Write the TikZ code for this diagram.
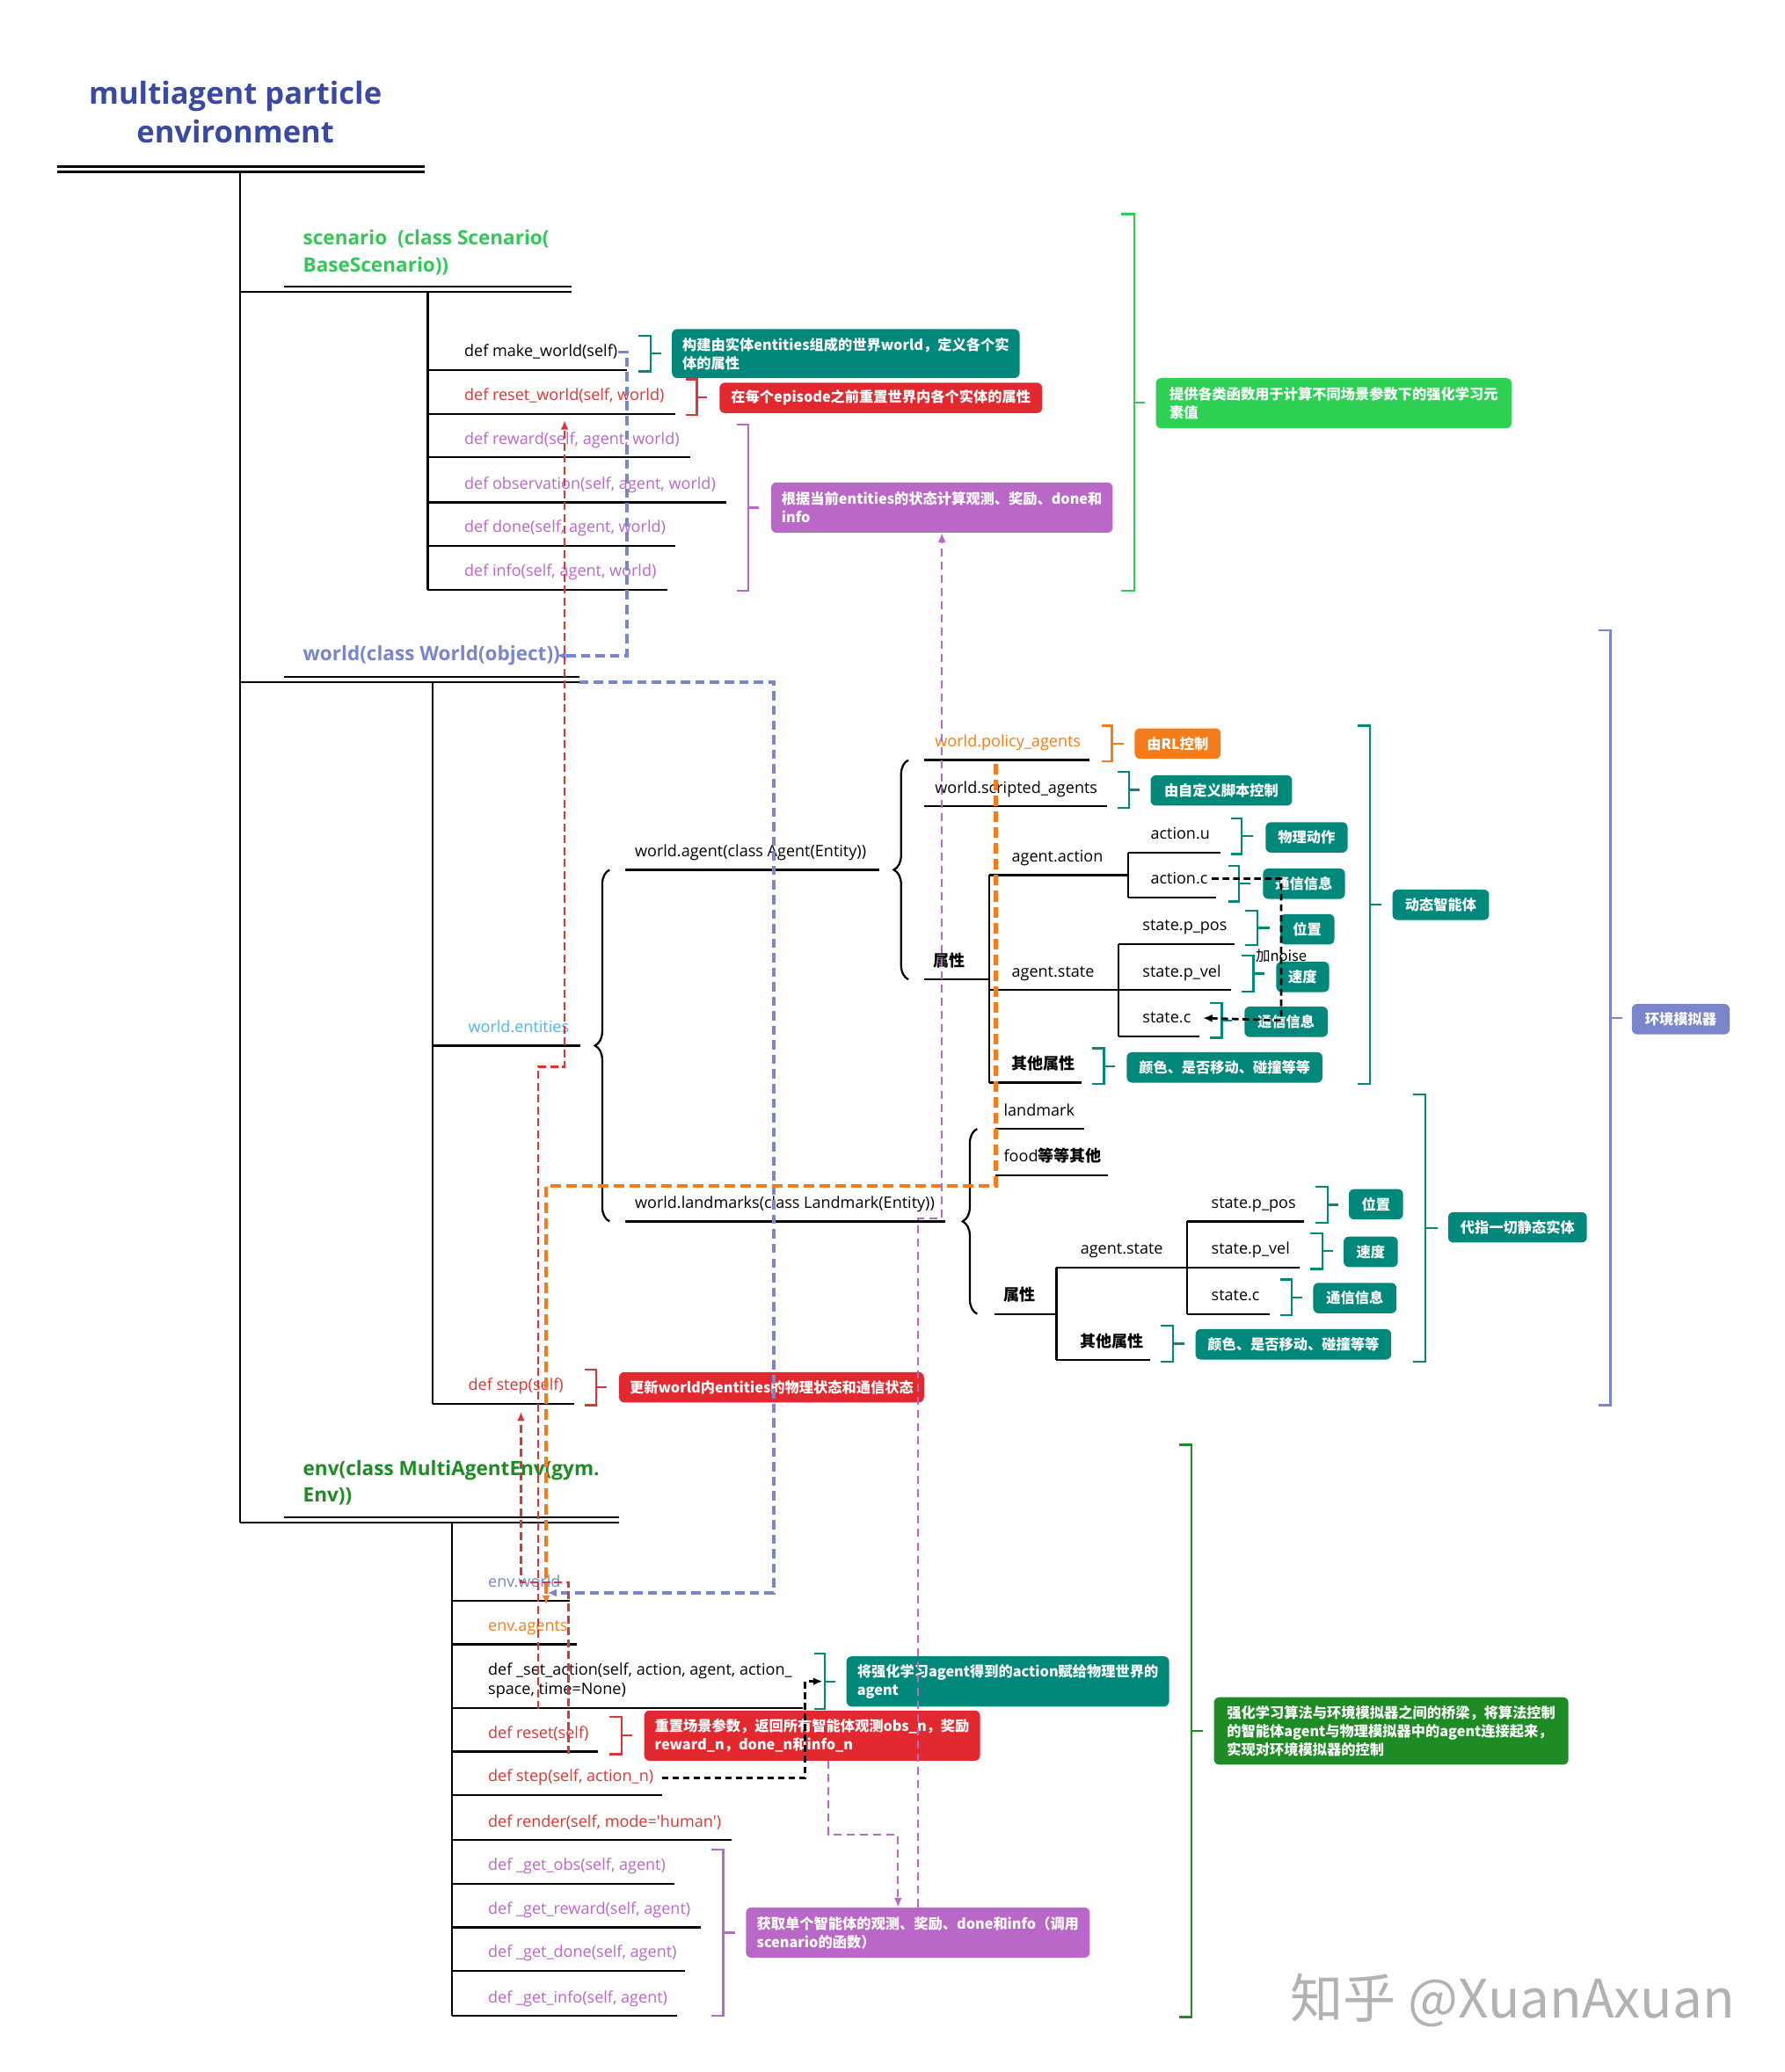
\documentclass[tikz,border=0pt]{standalone}
\usepackage{fontspec}
\setmainfont{Open Sans}
\newfontfamily\cjk{Noto Sans CJK SC}
\usetikzlibrary{decorations.pathreplacing,arrows.meta}

\definecolor{mpeblue}{HTML}{3A4AA3}
\definecolor{scngreen}{HTML}{36C75A}
\definecolor{boxgreen}{HTML}{2FD155}
\definecolor{wldblue}{HTML}{7986CB}
\definecolor{tealbox}{HTML}{00897B}
\definecolor{redfn}{HTML}{DD3535}
\definecolor{redbox}{HTML}{E1292F}
\definecolor{purp}{HTML}{BA68C8}
\definecolor{orng}{HTML}{F57C1A}
\definecolor{envgreen}{HTML}{1E8B24}
\definecolor{entblue}{HTML}{4DB6E8}

\tikzset{
  tree/.style={line width=1.5pt},
  fn/.style={font=\fontsize{12}{15}\selectfont, inner sep=0pt, anchor=base west},
  cjkb/.style={font=\cjk\bfseries\fontsize{12}{15}\selectfont},
  head/.style={font=\bfseries\fontsize{15}{20}\selectfont, inner sep=0pt, anchor=west, align=left},
  box/.style={rounded corners=4pt, inner xsep=8pt, inner ysep=2pt, text=white, anchor=west,
    align=left, minimum height=23pt, font=\cjk\bfseries\fontsize{10.8}{14}\selectfont},
  brk/.style={line width=1.5pt},
  mbrace/.style={decorate, decoration={brace, amplitude=11pt}, line width=1.5pt},
  bluedash/.style={wldblue, line width=2.5pt, dash pattern=on 7pt off 4pt},
  orangedash/.style={orng, line width=3pt, dash pattern=on 8pt off 4pt},
  reddash/.style={redfn, line width=1.5pt, dash pattern=on 6pt off 3pt},
  purpdash/.style={purp, line width=1.3pt, dash pattern=on 6pt off 4pt},
  blackdash/.style={black, line width=1.8pt, dash pattern=on 5pt off 3pt}
}

\begin{document}
\begin{tikzpicture}[x=1pt, y=-1pt, >={Latex[length=7pt,width=6pt]}]
  \def\brk#1#2#3#4#5#6{\draw[brk,#1] (#2,#4) -| (#3,#5) -- (#2,#5) (#3,{(#4+#5)/2}) -- (#6,{(#4+#5)/2});}

  \fill[white] (0,0) rectangle (1350,1567.5);
  \useasboundingbox (0,0) rectangle (1350,1567.5);

  % root
  \node[font=\bfseries\fontsize{23}{29.5}\selectfont, text=mpeblue, align=center] (title) at (178,85) {multiagent particle\\environment};
  \draw[tree] (43,126) -- (321,126) (43,130) -- (321,130);
  \draw[tree] (181.5,130) -- (181.5,1152);

  % scenario
  \node[head, text=scngreen] (scn) at (229,191) {scenario\ \ (class Scenario(\\BaseScenario))};
  \draw[tree] (215,217) -- (432,217) (181.5,221) -- (432,221);
  \draw[tree] (323.5,221) -- (323.5,446);
  \draw[tree] (323.5,280) -- (474,280) (323.5,313) -- (511,313) (323.5,346) -- (522,346)
    (323.5,380) -- (549,380) (323.5,413) -- (511,413) (323.5,446) -- (505,446);
  \node[fn] (mkw) at (351,270) {def make\_world(self)};
  \node[fn, text=redfn] (rsw) at (351,303) {def reset\_world(self, world)};
  \node[fn, text=purp] (rew) at (351,336) {def reward(self, agent, world)};
  \node[fn, text=purp] (obs) at (351,370) {def observation(self, agent, world)};
  \node[fn, text=purp] (don) at (351,403) {def done(self, agent, world)};
  \node[fn, text=purp] (inf) at (351,436) {def info(self, agent, world)};

  \brk{tealbox}{483}{492}{254}{281}{500}
  \brk{redfn}{519}{527}{287}{314}{535}
  \brk{purp}{557}{566}{321}{447}{574}
  \brk{scngreen}{848}{858}{162}{447}{866}
  \node[box, fill=tealbox, minimum width=261pt, minimum height=37pt] (bmkw) at (508,267.5) {构建由实体entities组成的世界world，定义各个实\\体的属性};
  \node[box, fill=redbox, minimum width=244pt] (brsw) at (544,301) {在每个episode之前重置世界内各个实体的属性};
  \node[box, fill=purp, minimum width=257pt, minimum height=38pt] (bscn) at (583,384) {根据当前entities的状态计算观测、奖励、done和\\info};
  \node[box, fill=boxgreen, minimum width=269pt, minimum height=38pt] (bsce) at (874,305) {提供各类函数用于计算不同场景参数下的强化学习元\\素值};

  % world
  \node[head, text=wldblue] (wld) at (229,496) {world(class World(object))};
  \draw[tree] (215,512) -- (438,512) (181.5,516) -- (438,516);
  \draw[tree] (327,516) -- (327,1062);
  \draw[tree] (327,791) -- (439,791);
  \node[fn, text=entblue] (ent) at (354,781) {world.entities};
  \draw[mbrace] (461,924) -- (461,658);

  % agents
  \node[fn] (agt) at (480,648) {world.agent(class Agent(Entity))};
  \draw[tree] (473,658) -- (665,658);
  \draw[mbrace] (687,741) -- (687,575);
  \node[fn, text=orng] (pol) at (707,565) {world.policy\_agents};
  \node[fn] (scr) at (707,600) {world.scripted\_agents};
  \node[fn, cjkb] (aat) at (706,731) {属性};
  \draw[tree] (699,575) -- (824,575) (699,610) -- (837,610) (699,741) -- (748,741);
  \draw[tree] (748,662) -- (748,819) (748,662) -- (853,662) (853,645) -- (853,679)
    (853,645) -- (923,645) (853,679) -- (920,679);
  \draw[tree] (748,749) -- (931,749) (846,714) -- (846,784) (846,714) -- (934,714)
    (846,784) -- (907,784) (748,819) -- (818,819);
  \node[fn] (aac) at (765,652) {agent.action};
  \node[fn] (acu) at (870,635) {action.u};
  \node[fn] (acc) at (870,669) {action.c};
  \node[fn] (ast) at (765,739) {agent.state};
  \node[fn] (spp) at (864,704) {state.p\_pos};
  \node[fn] (spv) at (864,739) {state.p\_vel};
  \node[fn] (stc) at (864,774) {state.c};
  \node[fn, cjkb] (aot) at (765,809) {其他属性};

  \brk{orng}{833}{841}{549}{576}{850}
  \brk{tealbox}{845}{854}{584}{611}{862}
  \brk{tealbox}{931}{939}{619}{646}{948}
  \brk{tealbox}{929}{937}{655}{682}{946}
  \brk{tealbox}{942}{951}{689}{715}{960}
  \brk{tealbox}{939}{948}{723}{750}{956}
  \brk{tealbox}{915}{924}{759}{785}{932}
  \brk{tealbox}{826}{835}{793}{820}{843}
  \brk{tealbox}{1027}{1036}{549}{820}{1045}
  \node[box, fill=orng, minimum width=65pt] (brl) at (858,562.5) {由RL控制};
  \node[box, fill=tealbox, minimum width=107pt] (bscr) at (870,598) {由自定义脚本控制};
  \node[box, fill=tealbox, minimum width=62pt] (bphy) at (957,633.5) {物理动作};
  \node[box, fill=tealbox, minimum width=62pt] (bcom1) at (955,668.5) {通信信息};
  \node[box, fill=tealbox, minimum width=41pt] (bpos1) at (968,703) {位置};
  \node[box, fill=tealbox, minimum width=40pt] (bvel1) at (965,739) {速度};
  \node[box, fill=tealbox, minimum width=63pt] (bcom2) at (941,773) {通信信息};
  \node[box, fill=tealbox, minimum width=148pt] (both1) at (852,807.5) {颜色、是否移动、碰撞等等};
  \node[box, fill=tealbox, minimum width=73pt] (bdyn) at (1053,684.5) {动态智能体};
  \node[font=\cjk\fontsize{11}{13}\selectfont, inner sep=0pt] (noise) at (969,723) {加noise};

  % landmarks
  \node[fn] (lmk) at (480,914) {world.landmarks(class Landmark(Entity))};
  \draw[tree] (473,924) -- (715,924);
  \draw[mbrace] (739,994) -- (739,854);
  \node[fn] (lmn) at (759,844) {landmark};
  \node[fn] (fod) at (759,879) {food{\cjk\bfseries 等等其他}};
  \node[fn, cjkb] (lat) at (759,984) {属性};
  \draw[tree] (753,854) -- (820,854) (753,889) -- (838,889) (752,994) -- (799,994);
  \draw[tree] (799,959) -- (799,1029) (799,959) -- (898,959) (898,924) -- (898,994)
    (898,924) -- (986,924) (898,959) -- (983,959) (898,994) -- (960,994) (799,1029) -- (870,1029);
  \node[fn] (lst) at (817,949) {agent.state};
  \node[fn] (lpp) at (916,914) {state.p\_pos};
  \node[fn] (lpv) at (916,949) {state.p\_vel};
  \node[fn] (lsc) at (916,984) {state.c};
  \node[fn, cjkb] (lot) at (817,1019) {其他属性};

  \brk{tealbox}{995}{1004}{898}{925}{1012}
  \brk{tealbox}{991}{1000}{933}{960}{1008}
  \brk{tealbox}{968}{977}{968}{995}{985}
  \brk{tealbox}{878}{887}{1003}{1030}{896}
  \brk{tealbox}{1069}{1078}{828}{1030}{1087}
  \node[box, fill=tealbox, minimum width=41pt] (bpos2) at (1020,911) {位置};
  \node[box, fill=tealbox, minimum width=41pt] (bvel2) at (1016,947) {速度};
  \node[box, fill=tealbox, minimum width=63pt] (bcom3) at (993,982) {通信信息};
  \node[box, fill=tealbox, minimum width=148pt] (both2) at (904,1017) {颜色、是否移动、碰撞等等};
  \node[box, fill=tealbox, minimum width=105pt] (bsta) at (1095,928.5) {代指一切静态实体};

  % world step
  \node[fn, text=redfn] (wst) at (354,1052) {def step(self)};
  \draw[tree] (327,1062) -- (434,1062);
  \brk{redfn}{442}{451}{1036}{1063}{459}
  \node[box, fill=redbox, minimum width=228pt] (bstp) at (468,1049.5) {更新world内entities的物理状态和通信状态};
  \brk{wldblue}{1209}{1218}{477}{1063}{1227}
  \node[box, fill=wldblue, minimum width=74pt] (bsim) at (1234,771) {环境模拟器};

  % env
  \node[head, text=envgreen] (env) at (229,1122) {env(class MultiAgentEnv(gym.\\Env))};
  \draw[tree] (215,1148) -- (468,1148) (181.5,1152) -- (468,1152);
  \draw[tree] (342,1152) -- (342,1525);
  \draw[tree] (342,1211) -- (431,1211) (342,1244) -- (436,1244) (342,1292) -- (607,1292)
    (342,1325) -- (452,1325) (342,1358) -- (501,1358) (342,1392) -- (553,1392)
    (342,1425) -- (510,1425) (342,1458) -- (530,1458) (342,1491) -- (518,1491) (342,1525) -- (512,1525);
  \node[fn, text=wldblue] (enw) at (369,1201) {env.world};
  \node[fn, text=orng] (ena) at (369,1234) {env.agents};
  \node[fn, anchor=west, align=left] (sac) at (369,1271.5) {def \_set\_action(self, action, agent, action\_\\space, time=None)};
  \node[fn, text=redfn] (rst) at (369,1315) {def reset(self)};
  \node[fn, text=redfn] (stp) at (369,1348) {def step(self, action\_n)};
  \node[fn, text=redfn] (rnd) at (369,1382) {def render(self, mode=\textquotesingle human\textquotesingle)};
  \node[fn, text=purp] (gob) at (369,1415) {def \_get\_obs(self, agent)};
  \node[fn, text=purp] (grw) at (369,1448) {def \_get\_reward(self, agent)};
  \node[fn, text=purp] (gdn) at (369,1481) {def \_get\_done(self, agent)};
  \node[fn, text=purp] (gif) at (369,1515) {def \_get\_info(self, agent)};

  \brk{tealbox}{616}{624}{1251}{1293}{632}
  \brk{redfn}{461}{470}{1299}{1327}{478}
  \brk{purp}{538}{547}{1399}{1525}{556}
  \brk{envgreen}{892}{901}{1093}{1526}{910}
  \node[box, fill=tealbox, minimum width=244pt, minimum height=38pt] (bset) at (640,1272) {将强化学习agent得到的action赋给物理世界的\\agent};
  \node[box, fill=redbox, minimum width=254pt, minimum height=38pt] (brst) at (487,1313) {重置场景参数，返回所有智能体观测obs\_n，奖励\\reward\_n，done\_n和info\_n};
  \node[box, fill=purp, minimum width=260pt, minimum height=38pt] (bget) at (564,1462) {获取单个智能体的观测、奖励、done和info（调用\\scenario的函数）};
  \node[box, fill=envgreen, minimum width=268pt, minimum height=51pt] (benv) at (918,1309.5) {强化学习算法与环境模拟器之间的桥梁，将算法控制\\的智能体agent与物理模拟器中的agent连接起来，\\实现对环境模拟器的控制};

  % calls between the parts
  \draw[bluedash,->] (mkw.east) -| (474,496) -- (421,496);
  \draw[bluedash,->] (438,516) -- (585,516) -- (585,1205) -- (414,1205);
  \draw[orangedash,->] (753,578) -- (753,897) -- (413,897) -- (413,1214);
  \draw[reddash,->] (407,1293) |- (427,807) -- (427,318);
  \draw[reddash,->] (430,1327) -- (430,1197) -- (394,1197) -- (394,1068);
  \draw[purpdash,->] (bget.north) -- ++(0,-521) -| (bscn.south);
  \draw[purpdash,->] ([xshift=12pt]brst.south) |- ([xshift=-15pt,yshift=55pt]bget.north) -- ([xshift=-15pt]bget.north);
  \draw[blackdash,->] ([xshift=3pt]acc.east) -| (969,772) -- ([xshift=9pt]stc.east);
  \draw[blackdash,->] ([xshift=6pt]stp.east) -| (609,1272) -- ([xshift=-18pt]bset.west);

  \node[font=\cjk\fontsize{40}{40}\selectfont, text=black!30, inner sep=0pt] (wm) at (1144,1513) {知乎 @XuanAxuan};
\end{tikzpicture}
\end{document}
